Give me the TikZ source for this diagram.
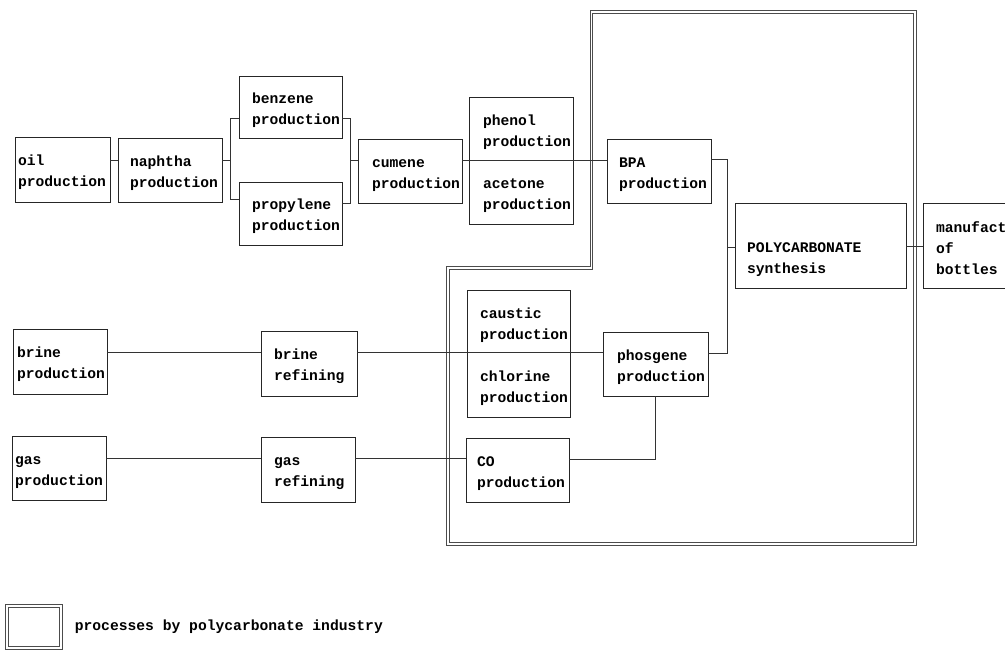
\documentclass[tikz,border=0pt]{standalone}
\usepackage{fontspec}
\setmonofont{Liberation Mono}
\begin{document}
\begin{tikzpicture}[x=0.75pt,y=-0.75pt,
  line width=0.6pt,
  % process box size: width, height, left padding (all in px units)
  pboxsize/.code n args={3}{%
    \pgfmathsetmacro\bw{#1*0.75}\pgfmathsetmacro\bh{#2*0.75}%
    \pgfmathsetmacro\bp{#3*0.75}\pgfmathsetmacro\bt{(#1-2*#3)*0.75}%
    \edef\tmp{\noexpand\pgfkeysalso{minimum width=\bw pt, minimum height=\bh pt,
      inner xsep=\bp pt, text width=\bt pt}}\tmp},
  pbox/.style n args={3}{pboxsize={#1}{#2}{#3},
    execute at begin node={\rule{0pt}{12.5pt}}},
  every node/.style={draw=black!85, rectangle, align=left, inner ysep=0pt,
    font=\ttfamily\bfseries\fontsize{11}{15.75}\selectfont},
  link/.style={draw=black!80, line width=0.6pt},
  frame/.style={draw=black!70, line width=0.8pt, double=white, double distance=0.9pt}
]
\useasboundingbox (0,0) rectangle (1005,649);
\clip (0,0) rectangle (1005,649);

% area of the polycarbonate industry
\draw[frame] (591.5,12) -- (915,12) -- (915,544) -- (448,544) -- (448,268)
  -- (591.5,268) -- cycle;

% oil / cumene chain
\node[pbox={95}{65}{3}]   (oil)  at (62.5,169.5) {oil\\production};
\node[pbox={104}{64}{12}] (naph) at (170,170)    {naphtha\\production};
\node[pbox={103}{62}{13}] (benz) at (290.5,107)  {benzene\\production};
\node[pbox={103}{63}{13}] (prop) at (290.5,213.5) {propylene\\production};
\node[pbox={104}{64}{14}] (cum)  at (410,171)    {cumene\\production};
\node[pbox={104}{127}{14}] (phen) at (521,160.5)
  {phenol\\production\\[15.75pt]acetone\\production};
\node[pbox={104}{64}{12}] (bpa)  at (659,171)    {BPA\\production};
\node[pbox={171}{85}{12}] (poly) at (820.5,245.5) {\mbox{}\\POLYCARBONATE\\synthesis};
\node[pbox={117}{85}{13}] (manu) at (981.5,245.5) {manufact\\of\\bottles};

% brine and gas chains
\node[pbox={94}{65}{4}]   (brp)  at (60,361.5)   {brine\\production};
\node[pbox={96}{65}{13}]  (brr)  at (309,363.5)  {brine\\refining};
\node[pbox={94}{64}{3}]   (gsp)  at (59,468)     {gas\\production};
\node[pbox={94}{65}{13}]  (gsr)  at (308,469.5)  {gas\\refining};
\node[pbox={103}{127}{13}] (caus) at (518.5,353.5)
  {caustic\\production\\[15.75pt]chlorine\\production};
\node[pbox={105}{64}{14}] (phos) at (655.5,364)  {phosgene\\production};
\node[pbox={103}{64}{11}] (co)   at (517.5,470)  {CO\\production};

% junction points
\coordinate (jn) at (230,160);
\coordinate (jc) at (350,160);
\coordinate (jp) at (727,247);

% connectors
\draw[link] (oil.east |- jn) -- (naph.west |- jn);
\draw[link] (naph.east |- jn) -- (jn);
\draw[link] (benz.west |- 0,118) -| (230,199) -- (prop.west |- 0,199);
\draw[link] (benz.east |- 0,118) -| (350,203) -- (prop.east |- 0,203);
\draw[link] (jc) -- (cum.west |- jc);
\draw[link] (cum.east |- jc) -- (bpa.west |- jc);
\draw[link] (bpa.east |- 0,159) -| (727,353) -- (phos.east |- 0,353);
\draw[link] (jp) -- (poly.west |- jp);
\draw[link] (poly.east |- 0,246) -- (manu.west |- 0,246);
\draw[link] (brp.east |- 0,352) -- (brr.west |- 0,352);
\draw[link] (brr.east |- 0,352) -- (phos.west |- 0,352);
\draw[link] (gsp.east |- 0,458) -- (gsr.west |- 0,458);
\draw[link] (gsr.east |- 0,458) -- (co.west |- 0,458);
\draw[link] (phos.south) |- (co.east |- 0,459);

% legend
\node[frame, minimum width=40.5pt, minimum height=31.5pt, inner xsep=0pt]
  (legbox) at (34,627) {};
\node[draw=none, anchor=west] (legtxt) at (70,627)
  {processes by polycarbonate industry};
\end{tikzpicture}
\end{document}
